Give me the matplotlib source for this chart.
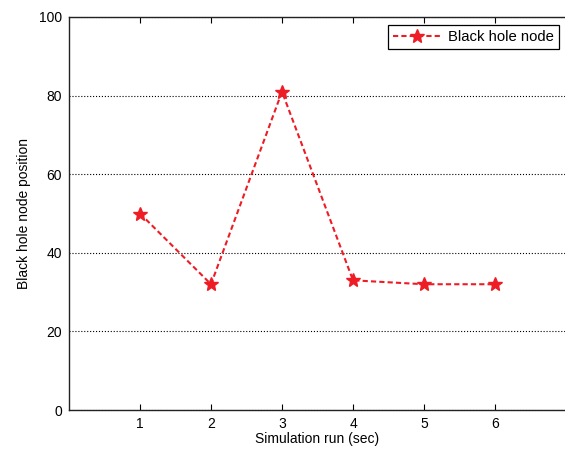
import matplotlib
matplotlib.use("Agg")
import matplotlib.pyplot as plt

# values
runs = [1, 2, 3, 4, 5, 6]
positions = [50, 32, 81, 33, 32, 32]
x_ticks = [1, 2, 3, 4, 5, 6]
y_ticks = [0, 20, 40, 60, 80, 100]

plt.rcParams['font.family'] = ['Liberation Sans', 'DejaVu Sans']
plt.rcParams['font.size'] = 10

fig = plt.figure(figsize=(5.65, 4.5), dpi=100)
ax = fig.add_axes([69 / 565, 40 / 450, 497 / 565, 393 / 450])

ax.plot(runs, positions, linestyle='--', color='#ee1c25', linewidth=1.5,
        marker='*', markersize=10, markerfacecolor='#ee1c25',
        markeredgecolor='#ee1c25', label='Black hole node', dashes=(2.5, 1.5))

ax.set_xlim(0, 7)
ax.set_ylim(0, 100)
ax.set_xticks(x_ticks)
ax.set_yticks(y_ticks)
ax.yaxis.grid(True, linestyle=':', color='black', linewidth=0.8)
ax.tick_params(axis='x', direction='in', top=True, length=4, width=0.8, pad=5)
ax.tick_params(axis='y', length=0, pad=5)
for side in ['left', 'bottom', 'top', 'right']:
    ax.spines[side].set_linewidth(1.0)
    ax.spines[side].set_color('#222222')

ax.set_xlabel('Simulation run (sec)', labelpad=1)
ax.set_ylabel('Black hole node position', labelpad=6)

leg = ax.legend(loc='upper right', bbox_to_anchor=(0.995, 0.992), fancybox=False,
                framealpha=1, edgecolor='black', fontsize=10.7, handlelength=3.2,
                handletextpad=0.5, borderpad=0.35, borderaxespad=0.3)
leg.get_frame().set_linewidth(0.9)

fig.savefig('out.png', dpi=100)
